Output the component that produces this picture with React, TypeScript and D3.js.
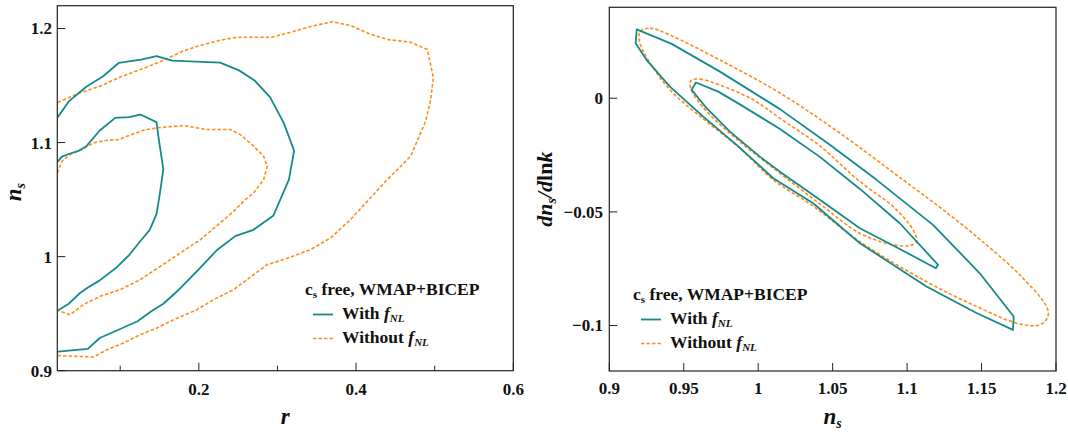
import React from "react";
import * as d3 from "d3";

type P = [number, number];

// ---------- Left panel data (r, n_s) ----------
const rMajorTicks = [0.2, 0.4, 0.6];
const rMajorLabels = ["0.2", "0.4", "0.6"];
const rMinorTicks = [0.1, 0.3, 0.5];
const nsLeftTicks = [0.9, 1.0, 1.1, 1.2];
const nsLeftLabels = ["0.9", "1", "1.1", "1.2"];

const withOuterLeft: P[] = [
  [0.0206, 1.1223], [0.0346, 1.1361], [0.0565, 1.1487], [0.0783, 1.1581], [0.098, 1.1698],
  [0.1265, 1.1727], [0.1462, 1.1757], [0.1659, 1.1718], [0.1965, 1.171], [0.2271, 1.1701],
  [0.2512, 1.1633], [0.2709, 1.1545], [0.2906, 1.1399], [0.3081, 1.117], [0.3212, 1.093],
  [0.3147, 1.0677], [0.295, 1.0361], [0.2687, 1.0232], [0.2468, 1.0182], [0.2228, 1.0056],
  [0.1987, 0.988], [0.1746, 0.971], [0.1549, 0.9587], [0.1396, 0.9522], [0.1221, 0.9434],
  [0.0958, 0.9352], [0.074, 0.9287], [0.0587, 0.9191], [0.0206, 0.9167],
];
const withInnerLeft: P[] = [
  [0.0206, 1.0833], [0.0258, 1.0877], [0.0346, 1.09], [0.0477, 1.093], [0.0565, 1.0965],
  [0.074, 1.1106], [0.0937, 1.1217], [0.1112, 1.1223], [0.1256, 1.1246], [0.1462, 1.1179],
  [0.1492, 1.1023], [0.1549, 1.0765], [0.1505, 1.0554], [0.1462, 1.0372], [0.1374, 1.0232],
  [0.1265, 1.0144], [0.1112, 1.0012], [0.0945, 0.99], [0.074, 0.9792], [0.0565, 0.9718],
  [0.0477, 0.9674], [0.0346, 0.9587], [0.0206, 0.9528],
];
const withoutOuterLeft: P[] = [
  [0.0206, 1.1352], [0.0477, 1.1434], [0.074, 1.1493], [0.1002, 1.1575], [0.1309, 1.1654],
  [0.1571, 1.1727], [0.179, 1.18], [0.2009, 1.185], [0.2271, 1.1897], [0.249, 1.1924],
  [0.2932, 1.1924], [0.3204, 1.1974], [0.342, 1.2018], [0.3697, 1.2059], [0.393, 1.2026],
  [0.4159, 1.1956], [0.4397, 1.1904], [0.4694, 1.188], [0.4907, 1.1816], [0.4983, 1.1568],
  [0.4949, 1.1377], [0.4885, 1.1187], [0.4694, 1.088], [0.4397, 1.0675], [0.4163, 1.05],
  [0.393, 1.0325], [0.3675, 1.0164], [0.342, 1.0061], [0.308, 0.9974], [0.2869, 0.993],
  [0.2698, 0.9842], [0.2443, 0.9711], [0.2189, 0.9623], [0.1977, 0.9535], [0.1679, 0.9447],
  [0.1468, 0.9375], [0.1255, 0.9316], [0.1042, 0.9243], [0.0831, 0.9184], [0.066, 0.912],
  [0.049, 0.9125], [0.0206, 0.9132],
];
const withoutInnerLeft: P[] = [
  [0.0201, 1.0734], [0.0257, 1.0836], [0.0363, 1.0895], [0.0512, 1.0939], [0.066, 1.0997],
  [0.0831, 1.102], [0.0978, 1.1026], [0.1085, 1.1055], [0.1297, 1.1108], [0.1468, 1.1129],
  [0.1806, 1.1149], [0.2104, 1.1114], [0.2401, 1.1114], [0.2529, 1.107], [0.2698, 1.0968],
  [0.2825, 1.088], [0.2869, 1.0792], [0.2825, 1.0675], [0.2698, 1.0559], [0.2592, 1.05],
  [0.2443, 1.0397], [0.2274, 1.0296], [0.2019, 1.0149], [0.1764, 1.0032], [0.151, 0.9915],
  [0.1255, 0.9798], [0.1, 0.9711], [0.0745, 0.9652], [0.0532, 0.9579], [0.0363, 0.9491],
  [0.0214, 0.9526],
];

// ---------- Right panel data (n_s, dn_s/dlnk) ----------
const nsRightTicks = [0.9, 0.95, 1.0, 1.05, 1.1, 1.15, 1.2];
const nsRightLabels = ["0.9", "0.95", "1", "1.05", "1.1", "1.15", "1.2"];
const runTicks = [0, -0.05, -0.1];
const runLabels = ["0", "\u22120.05", "\u22120.1"];

const withOuterRight: P[] = [
  [0.9184, 0.0303], [0.9419, 0.0239], [0.9743, 0.0117], [1.0146, -0.0048], [1.0481, -0.0205],
  [1.0795, -0.0359], [1.1174, -0.0557], [1.1488, -0.077], [1.1716, -0.096], [1.1711, -0.1019],
  [1.1466, -0.0945], [1.113, -0.0828], [1.0683, -0.0638], [1.0369, -0.0462], [1.0101, -0.0352],
  [0.9855, -0.0205], [0.9631, -0.0081], [0.9407, 0.0051], [0.9251, 0.0168], [0.9177, 0.0242],
];
const withInnerRight: P[] = [
  [0.9582, 0.0069], [0.9732, 0.0029], [0.9877, -0.0027], [1.0146, -0.0135], [1.0414, -0.0258],
  [1.0683, -0.0399], [1.0951, -0.055], [1.1208, -0.0733], [1.1193, -0.0748], [1.0951, -0.0663],
  [1.0683, -0.0572], [1.0414, -0.0447], [1.0146, -0.0323], [1.0011, -0.0257], [0.981, -0.0147],
  [0.9654, -0.0044], [0.9553, 0.0037],
];
const withoutOuterRight: P[] = [
  [0.9206, 0.0293], [0.9273, 0.0308], [0.9407, 0.0278], [0.9743, 0.0168], [1.0146, 0.0023],
  [1.0548, -0.0153], [1.0973, -0.0359], [1.1242, -0.0491], [1.1533, -0.0645], [1.1756, -0.0777],
  [1.1936, -0.0916], [1.1946, -0.096], [1.1891, -0.0997], [1.1756, -0.0993], [1.1466, -0.0916],
  [1.113, -0.0807], [1.0683, -0.0631], [1.0367, -0.0474], [1.0101, -0.0359], [0.9877, -0.022],
  [0.9654, -0.0103], [0.9407, 0.0037], [0.9262, 0.0168], [0.9206, 0.0242],
];
const withoutInnerRight: P[] = [
  [0.9553, 0.008], [0.9609, 0.0084], [0.9743, 0.0058], [0.9966, -0.0007], [1.0146, -0.0088],
  [1.0414, -0.021], [1.0683, -0.0367], [1.0906, -0.0477], [1.104, -0.0579], [1.1063, -0.0631],
  [1.1018, -0.0648], [1.0906, -0.0645], [1.0683, -0.0594], [1.0414, -0.0465], [1.0101, -0.0307],
  [0.9877, -0.0192], [0.9676, -0.0073], [0.9568, 0.0015], [0.9542, 0.0063],
];

const TEAL = "#168a8a";
const ORANGE = "#ff8c1e";
const FONT = "'Liberation Serif', 'Times New Roman', serif";
const DASH = "3.5,2";

const left = { x0: 57.3, x1: 513.3, y0: 5.7, y1: 370.7 };
const right = { x0: 609.3, x1: 1056, y0: 7.3, y1: 371 };

const xL = d3.scaleLinear().domain([0.02, 0.6]).range([left.x0, left.x1]);
const yL = d3.scaleLinear().domain([0.9, 1.22]).range([left.y1, left.y0]);
const xR = d3.scaleLinear().domain([0.9, 1.2]).range([right.x0, right.x1]);
const yR = d3.scaleLinear().domain([-0.12, 0.04]).range([right.y1, right.y0]);

const lineL = d3.line<P>().x((d) => xL(d[0])).y((d) => yL(d[1]));
const lineRLin = d3.line<P>().x((d) => xR(d[0])).y((d) => yR(d[1])).curve(d3.curveLinearClosed);
const lineRSmooth = d3.line<P>().x((d) => xR(d[0])).y((d) => yR(d[1])).curve(d3.curveCatmullRomClosed.alpha(0.5));

function Legend({ x, y }: { x: number; y: number }) {
  return (
    <g fontFamily={FONT} fontWeight="bold" fontSize={17.5} fill="#111">
      <text x={x} y={y}>
        c<tspan fontSize={11} dy={3}>s</tspan>
        <tspan dy={-3}> free, WMAP+BICEP</tspan>
      </text>
      <line x1={x + 8} x2={x + 28} y1={y + 19.5} y2={y + 19.5} stroke={TEAL} strokeWidth={1.8} />
      <text x={x + 37} y={y + 24}>
        With <tspan fontStyle="italic">f</tspan>
        <tspan fontStyle="italic" fontSize={11} dy={3}>NL</tspan>
      </text>
      <line x1={x + 8} x2={x + 28} y1={y + 43.5} y2={y + 43.5} stroke={ORANGE} strokeWidth={1.6} strokeDasharray={DASH} />
      <text x={x + 37} y={y + 48}>
        Without <tspan fontStyle="italic">f</tspan>
        <tspan fontStyle="italic" fontSize={11} dy={3}>NL</tspan>
      </text>
    </g>
  );
}

export default function App() {
  const tickFont = { fontFamily: FONT, fontWeight: "bold" as const, fontSize: 17, fill: "#111" };
  return (
    <svg
      width={1068}
      height={432}
      style={{ position: "absolute", left: 0, top: 0, background: "#fff" }}
    >
      <defs>
        <clipPath id="clipL">
          <rect x={left.x0} y={left.y0} width={left.x1 - left.x0} height={left.y1 - left.y0} />
        </clipPath>
        <clipPath id="clipR">
          <rect x={right.x0} y={right.y0} width={right.x1 - right.x0} height={right.y1 - right.y0} />
        </clipPath>
      </defs>
      <rect x={0} y={0} width={1068} height={432} fill="#fff" />

      {/* ---------- Left panel ---------- */}
      <g clipPath="url(#clipL)" fill="none" strokeLinejoin="round">
        <path d={lineL(withoutOuterLeft) || ""} stroke={ORANGE} strokeWidth={1.6} strokeDasharray={DASH} />
        <path d={lineL(withoutInnerLeft) || ""} stroke={ORANGE} strokeWidth={1.6} strokeDasharray={DASH} />
        <path d={lineL(withOuterLeft) || ""} stroke={TEAL} strokeWidth={1.8} />
        <path d={lineL(withInnerLeft) || ""} stroke={TEAL} strokeWidth={1.8} />
      </g>
      <rect x={left.x0} y={left.y0} width={left.x1 - left.x0} height={left.y1 - left.y0} fill="none" stroke="#222" strokeWidth={1.2} />
      {rMajorTicks.map((t, i) => (
        <g key={"lx" + t}>
          <line x1={xL(t)} x2={xL(t)} y1={left.y1} y2={left.y1 - 8} stroke="#222" strokeWidth={1} />
          <text x={xL(t)} y={395} textAnchor="middle" {...tickFont}>{rMajorLabels[i]}</text>
        </g>
      ))}
      {rMinorTicks.map((t) => (
        <line key={"lm" + t} x1={xL(t)} x2={xL(t)} y1={left.y1} y2={left.y1 - 5} stroke="#222" strokeWidth={1} />
      ))}
      {nsLeftTicks.map((t, i) => (
        <g key={"ly" + t}>
          <line x1={left.x0} x2={left.x0 + 8} y1={yL(t)} y2={yL(t)} stroke="#222" strokeWidth={1} />
          <text x={52} y={yL(t)} dy="0.35em" textAnchor="end" {...tickFont}>{nsLeftLabels[i]}</text>
        </g>
      ))}
      <text x={(left.x0 + left.x1) / 2} y={424} textAnchor="middle" fontFamily={FONT} fontWeight="bold" fontStyle="italic" fontSize={23} fill="#111">r</text>
      <text transform={`translate(21,${(left.y0 + left.y1) / 2 + 4}) rotate(-90)`} textAnchor="middle" fontFamily={FONT} fontWeight="bold" fontStyle="italic" fontSize={23} fill="#111">
        n<tspan fontSize={14} dy={4}>s</tspan>
      </text>
      <Legend x={305} y={295} />

      {/* ---------- Right panel ---------- */}
      <g clipPath="url(#clipR)" fill="none" strokeLinejoin="round">
        <path d={lineRSmooth(withoutOuterRight) || ""} stroke={ORANGE} strokeWidth={1.6} strokeDasharray={DASH} />
        <path d={lineRSmooth(withoutInnerRight) || ""} stroke={ORANGE} strokeWidth={1.6} strokeDasharray={DASH} />
        <path d={lineRLin(withOuterRight) || ""} stroke={TEAL} strokeWidth={1.8} />
        <path d={lineRLin(withInnerRight) || ""} stroke={TEAL} strokeWidth={1.8} />
      </g>
      <rect x={right.x0} y={right.y0} width={right.x1 - right.x0} height={right.y1 - right.y0} fill="none" stroke="#222" strokeWidth={1.2} />
      {nsRightTicks.map((t, i) => (
        <g key={"rx" + t}>
          <line x1={xR(t)} x2={xR(t)} y1={right.y1} y2={right.y1 - 8} stroke="#222" strokeWidth={1} />
          <text x={xR(t)} y={394} textAnchor="middle" {...tickFont}>{nsRightLabels[i]}</text>
        </g>
      ))}
      {runTicks.map((t, i) => (
        <g key={"ry" + t}>
          <line x1={right.x0} x2={right.x0 + 8} y1={yR(t)} y2={yR(t)} stroke="#222" strokeWidth={1} />
          <text x={603} y={yR(t)} dy="0.35em" textAnchor="end" {...tickFont}>{runLabels[i]}</text>
        </g>
      ))}
      <text x={(right.x0 + right.x1) / 2} y={424} textAnchor="middle" fontFamily={FONT} fontWeight="bold" fontStyle="italic" fontSize={23} fill="#111">
        n<tspan fontSize={14} dy={4}>s</tspan>
      </text>
      <text transform={`translate(552,${(right.y0 + right.y1) / 2}) rotate(-90)`} textAnchor="middle" fontFamily={FONT} fontWeight="bold" fontSize={22} fill="#111">
        <tspan fontStyle="italic">dn</tspan>
        <tspan fontStyle="italic" fontSize={14} dy={4}>s</tspan>
        <tspan fontStyle="italic" dy={-4}>/d</tspan>
        <tspan>ln</tspan>
        <tspan fontStyle="italic">k</tspan>
      </text>
      <Legend x={633} y={300} />
    </svg>
  );
}
